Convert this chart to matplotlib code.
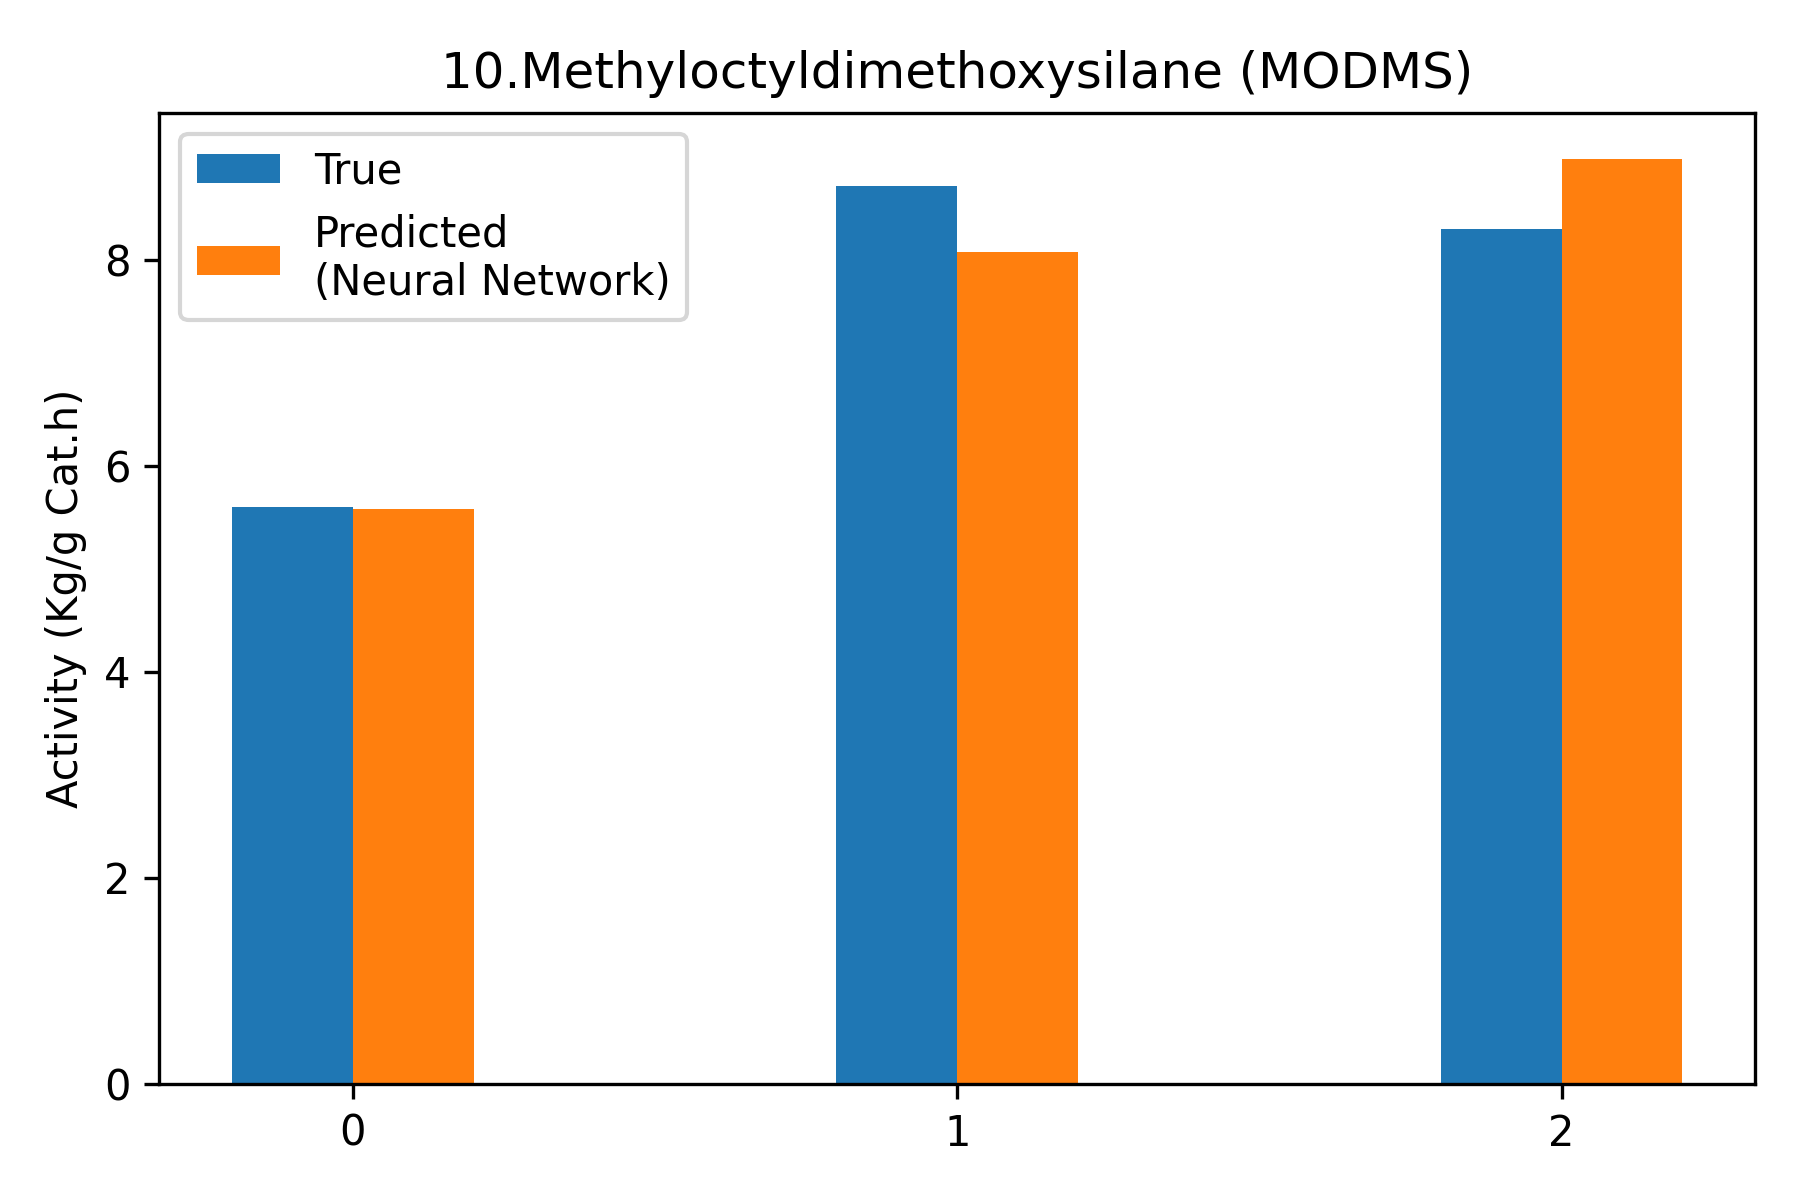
import matplotlib
matplotlib.use("Agg")
import matplotlib.pyplot as plt
import numpy as np

# donnees
samples = [0, 1, 2]
true_vals = [5.60, 8.72, 8.30]
pred_vals = [5.58, 8.08, 8.98]

x = np.array(samples)
w = 0.2

fig, ax = plt.subplots(figsize=(6, 4), dpi=300)
ax.bar(x - w/2, true_vals, width=w, label='True')
ax.bar(x + w/2, pred_vals, width=w, label='Predicted\n(Neural Network)')
ax.set_xticks(x)
ax.set_ylabel('Activity (Kg/g Cat.h)')
ax.set_title('10.Methyloctyldimethoxysilane (MODMS)')
ax.legend(loc='upper left')
fig.tight_layout()
# petit decalage du haut pour coller a l'original
fig.subplots_adjust(top=fig.subplotpars.top - 0.004)
fig.savefig('out.png')
